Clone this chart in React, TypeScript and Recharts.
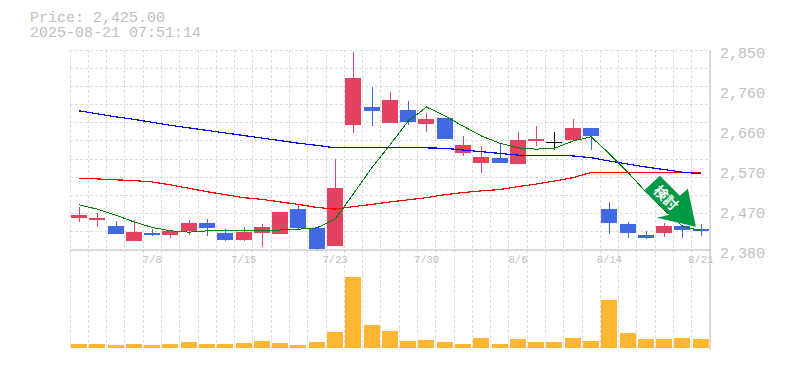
import { Bar, CartesianGrid, ComposedChart, Line, ReferenceDot, ReferenceLine, XAxis, YAxis } from "recharts";

const dates = ["7/2", "7/3", "7/4", "7/7", "7/8", "7/9", "7/10", "7/11", "7/14", "7/15", "7/16", "7/17", "7/18", "7/22", "7/23", "7/24", "7/25", "7/28", "7/29", "7/30", "7/31", "8/1", "8/4", "8/5", "8/6", "8/7", "8/8", "8/12", "8/13", "8/14", "8/15", "8/18", "8/19", "8/20", "8/21"];
const dateTicks = ["7/8", "7/15", "7/23", "7/30", "8/6", "8/14", "8/21"];
const priceTicks = [2380, 2474, 2568, 2662, 2756, 2850];

const opens = [2455, 2450, 2436, 2401, 2420, 2415, 2425, 2443, 2420, 2404, 2420, 2418, 2476, 2432, 2389, 2674, 2716, 2678, 2709, 2676, 2690, 2608, 2584, 2596, 2582, 2636, 2633, 2638, 2667, 2476, 2441, 2415, 2420, 2436, 2429];
const closes = [2462, 2455, 2418, 2422, 2415, 2425, 2443, 2432, 2404, 2422, 2434, 2469, 2432, 2382, 2526, 2784, 2707, 2732, 2681, 2688, 2641, 2627, 2599, 2584, 2638, 2641, 2633, 2667, 2648, 2443, 2420, 2408, 2436, 2427, 2425];
const highs = [2482, 2467, 2448, 2450, 2429, 2425, 2450, 2453, 2427, 2434, 2441, 2469, 2488, 2432, 2594, 2845, 2763, 2751, 2730, 2702, 2690, 2648, 2624, 2629, 2657, 2671, 2657, 2688, 2667, 2493, 2446, 2425, 2443, 2436, 2441];
const lows = [2446, 2434, 2418, 2401, 2413, 2408, 2415, 2413, 2401, 2401, 2387, 2418, 2427, 2380, 2389, 2655, 2671, 2678, 2674, 2657, 2641, 2601, 2561, 2584, 2582, 2624, 2615, 2638, 2615, 2418, 2408, 2406, 2410, 2408, 2413];

const maShort = [2486, 2476, 2462, 2446, 2433, 2425, 2422, 2425, 2427, 2425, 2425, 2427, 2429, 2432, 2453, 2512, 2573, 2627, 2683, 2716, 2695, 2671, 2648, 2631, 2620, 2617, 2619, 2636, 2646, 2606, 2563, 2516, 2474, 2436, 2425];
const maMid = [2707, 2700, 2693, 2687, 2680, 2673, 2667, 2661, 2655, 2649, 2643, 2637, 2631, 2626, 2620, 2620, 2620, 2620, 2620, 2620, 2619, 2615, 2611, 2607, 2603, 2603, 2603, 2601, 2597, 2589, 2582, 2575, 2569, 2563, 2559];
const maLong = [2549, 2547, 2545, 2543, 2540, 2533, 2525, 2517, 2510, 2503, 2499, 2493, 2487, 2480, 2476, 2482, 2487, 2493, 2498, 2503, 2510, 2515, 2519, 2522, 2529, 2535, 2542, 2550, 2562, 2562, 2562, 2562, 2562, 2562, 2562];
const volumes = [40, 40, 30, 40, 30, 40, 60, 40, 40, 50, 70, 50, 30, 60, 160, 710, 230, 170, 70, 80, 60, 40, 100, 40, 90, 60, 60, 100, 70, 480, 150, 90, 90, 100, 90];

const lastPrice = 2425;

const rows = dates.map((date, i) => ({
  date,
  open: opens[i],
  close: closes[i],
  high: highs[i],
  low: lows[i],
  range: [lows[i], highs[i]],
  maShort: maShort[i],
  maMid: maMid[i],
  maLong: maLong[i],
  volume: volumes[i],
}));

const LEFT = 70;
const PLOT_W = 640;
const GRAY = "#bdbdbd";
const MONO = "'Liberation Mono', monospace";
const gridX = Array.from({ length: 36 }, (_, i) => LEFT + (i * PLOT_W) / 35);
const gridY = Array.from({ length: 12 }, (_, i) => 50 + (i * 200) / 11);
const priceMargin = { top: 50, right: 0, bottom: 0, left: 70 };

// range bar spans low..high, body is placed by proportion inside it
function Candle({ x, y, width, height, payload }: any) {
  const { open, close, high, low } = payload;
  const perUnit = height / (high - low || 1);
  const top = y + (high - Math.max(open, close)) * perUnit;
  const bottom = y + (high - Math.min(open, close)) * perUnit;
  const color = open === close ? "#000000" : close > open ? "#e34360" : "#4169e1";
  const mid = Math.round(x + width / 2);
  return (
    <g shapeRendering="crispEdges">
      <rect x={mid} y={y} width={1} height={height} fill={color} />
      <rect x={mid - 8} y={top} width={16} height={Math.max(bottom - top, 1)} fill={color} />
    </g>
  );
}

function SignalArrow({ cx, cy }: any) {
  return (
    <g transform={`translate(${cx - 5} ${cy - 1})`}>
      <polygon points="-36,-51 -52,-36 -26,-12 -39,-9 0,0 -8,-38 -16,-31" fill="#009944" />
      <text transform="translate(-30 -29) rotate(45)" textAnchor="middle" dy={5} fontSize={14} fontWeight={700} fill="#ffffff" fontFamily="'Noto Sans CJK JP'">検討</text>
    </g>
  );
}

export default function App() {
  return (
    <div style={{ position: "absolute", left: 0, top: 0, width: 785, height: 370 }}>
      <style>{".recharts-line-curve{shape-rendering:crispEdges}"}</style>
      <div style={{ position: "absolute", left: 30, top: 11, color: "#c0c0c0", fontFamily: MONO, fontSize: 15, lineHeight: "15px", whiteSpace: "pre" }}>
        <div>Price: 2,425.00</div>
        <div>2025-08-21 07:51:14</div>
      </div>

      <div style={{ position: "absolute", left: 0, top: 250 }}>
        <ComposedChart width={785} height={110} data={rows} margin={{ top: 0, right: 0, bottom: 10, left: 70 }} barCategoryGap={0}>
          <CartesianGrid stroke="#dddddd" strokeDasharray="3 2" horizontal={false} verticalPoints={gridX} shapeRendering="crispEdges" />
          <XAxis dataKey="date" height={0} tick={false} tickLine={false} axisLine={{ stroke: GRAY, strokeWidth: 1 }} />
          <YAxis orientation="right" width={75} domain={[0, 980]} padding={{ bottom: 2 }} tick={false} tickLine={false} axisLine={{ stroke: GRAY, strokeWidth: 1 }} />
          <Bar dataKey="volume" fill="#ffb733" barSize={16} isAnimationActive={false} shapeRendering="crispEdges" />
        </ComposedChart>
      </div>

      {/* grid and the pale price markers sit in their own chart, under the candles */}
      <div style={{ position: "absolute", left: 0, top: 0 }}>
        <ComposedChart width={785} height={270} data={rows} margin={priceMargin}>
          <CartesianGrid stroke="#dddddd" strokeDasharray="3 2" verticalPoints={gridX} horizontalPoints={gridY} shapeRendering="crispEdges" />
          <XAxis dataKey="date" height={20} tick={false} tickLine={false} axisLine={false} />
          <YAxis orientation="right" width={75} domain={[2380, 2850]} tick={false} tickLine={false} axisLine={false} />
          <ReferenceLine y={lastPrice} stroke="#e6f2ae" strokeWidth={3} />
          <ReferenceLine x="8/21" stroke="#e6f2ae" strokeWidth={3} />
        </ComposedChart>
      </div>

      <div style={{ position: "absolute", left: 0, top: 0 }}>
        <ComposedChart width={785} height={270} data={rows} margin={priceMargin} barCategoryGap={0}>
          <XAxis dataKey="date" height={20} ticks={dateTicks} interval={0} tickLine={false} axisLine={{ stroke: GRAY, strokeWidth: 1 }} tick={{ fill: "#c0c0c0", fontSize: 10.5, fontFamily: MONO, dy: -2 }} />
          <YAxis orientation="right" width={75} domain={[2380, 2850]} ticks={priceTicks} interval={0} tickLine={false} axisLine={{ stroke: GRAY, strokeWidth: 1 }} tick={{ fill: "#c0c0c0", fontSize: 15, fontFamily: MONO, dy: 3, dx: 2 }} tickFormatter={(v: number) => (Math.round(v / 10) * 10).toLocaleString("en-US")} />
          <Line type="linear" dataKey="maLong" stroke="#ff0000" strokeWidth={1.2} dot={false} isAnimationActive={false} />
          <Line type="linear" dataKey="maMid" stroke="#0000ff" strokeWidth={1.2} dot={false} isAnimationActive={false} />
          <Line type="linear" dataKey="maShort" stroke="#008000" strokeWidth={1} dot={false} isAnimationActive={false} />
          <Bar dataKey="range" shape={<Candle />} isAnimationActive={false} />
          <ReferenceDot x="8/21" y={2432} r={0} shape={<SignalArrow />} />
        </ComposedChart>
      </div>
    </div>
  );
}
